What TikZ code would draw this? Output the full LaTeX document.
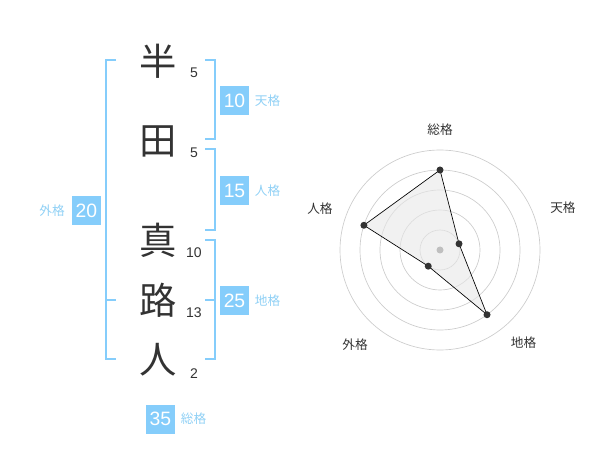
\documentclass[tikz,border=0pt]{standalone}
\usepackage{fontspec}
\setmainfont{Liberation Sans}
\newfontfamily\jp{Noto Sans CJK JP}
\usetikzlibrary{positioning}
\definecolor{kakublue}{HTML}{85CDFB}
\definecolor{kakutext}{HTML}{8FD0F5}
\definecolor{inkgray}{HTML}{333333}
\tikzset{
  kanji/.style={text=inkgray,font=\jp\fontsize{28}{28}\selectfont,inner sep=0},
  strokes/.style={text=inkgray,font=\fontsize{10.5}{10.5}\selectfont,inner sep=0},
  kakubox/.style={fill=kakublue,text=white,minimum size=21.75pt,inner sep=0,font=\fontsize{14.5}{14.5}\selectfont},
  kakuname/.style={text=kakutext,font=\jp\fontsize{9.5}{9.5}\selectfont,inner sep=0},
  bracket/.style={kakublue,line width=1.5pt},
  ring/.style={lightgray!80,line width=0.5pt},
  radarlabel/.style={text=inkgray,font=\jp\fontsize{9.5}{9.5}\selectfont,inner sep=0}
}
\begin{document}
\begin{tikzpicture}[x=0.75pt,y=-0.75pt]
\useasboundingbox (0,0) rectangle (600,470);
% name characters and stroke counts
\node[kanji] (c1) at (158,61) {半};
\node[kanji] (c2) at (158,141) {田};
\node[kanji] (c3) at (158,240) {真};
\node[kanji] (c4) at (158,300) {路};
\node[kanji] (c5) at (158,360) {人};
\node[strokes] (s1) at (194,73) {5};
\node[strokes] (s2) at (194,153) {5};
\node[strokes] (s3) at (194,253) {10};
\node[strokes] (s4) at (194,313) {13};
\node[strokes] (s5) at (194,374) {2};
% brackets
\draw[bracket] (116,60) -- (106,60) -- (106,359) -- (116,359);
\draw[bracket] (106,300) -- (116,300);
\draw[bracket] (205,60) -- (215,60) -- (215,139) -- (205,139);
\draw[bracket] (205,149) -- (215,149) -- (215,230) -- (205,230);
\draw[bracket] (205,240) -- (215,240) -- (215,359) -- (205,359);
\draw[bracket] (205,300) -- (215,300);
% kaku values
\node[kakubox] (ten) at (234.5,100.5) {10};
\node[kakuname,right=4pt of ten] {天格};
\node[kakubox] (jin) at (234.5,190.5) {15};
\node[kakuname,right=4pt of jin] {人格};
\node[kakubox] (chi) at (234.5,300.5) {25};
\node[kakuname,right=4pt of chi] {地格};
\node[kakubox] (gai) at (86.5,210.5) {20};
\node[kakuname,left=5pt of gai] {外格};
\node[kakubox] (sou) at (160.5,419) {35};
\node[kakuname,right=4pt of sou] {総格};
% radar
\begin{scope}[shift={(440,250)}]
  \foreach \r in {20,40,...,100}
    \draw[ring] (0,0) circle (\r);
  \coordinate (pSou) at (-90:80);
  \coordinate (pTen) at (-18:20);
  \coordinate (pChi) at (54:80);
  \coordinate (pGai) at (126:20);
  \coordinate (pJin) at (198:80);
  \fill[gray!18,fill opacity=0.6] (pSou) -- (pTen) -- (pChi) -- (pGai) -- (pJin) -- cycle;
  \fill[lightgray] (0,0) circle (3.5);
  \draw[black,line width=0.5pt] (pSou) -- (pTen) -- (pChi) -- (pGai) -- (pJin) -- cycle;
  \foreach \p in {pSou,pTen,pChi,pGai,pJin}
    \fill[inkgray] (\p) circle (3.5);
  \node[radarlabel] (lSou) at (-90:120) {総格};
  \node[radarlabel] (lTen) at (-19:130) {天格};
  \node[radarlabel] (lChi) at (48:125) {地格};
  \node[radarlabel] (lGai) at (132:127) {外格};
  \node[radarlabel] (lJin) at (199:127) {人格};
\end{scope}
\end{tikzpicture}
\end{document}
